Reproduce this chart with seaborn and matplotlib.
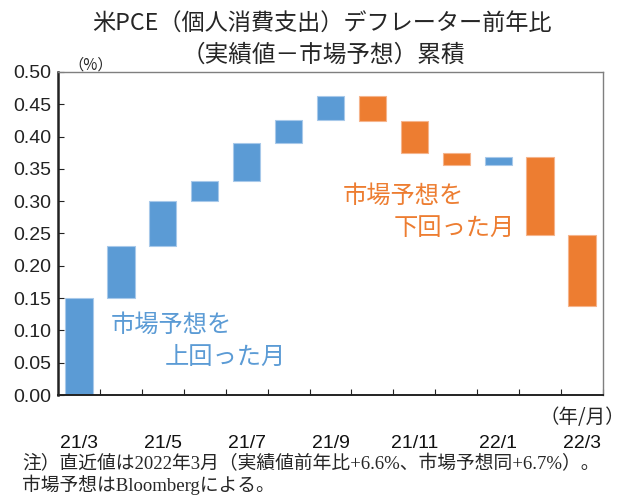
import numpy as np
import pandas as pd
import matplotlib
matplotlib.use("Agg")
import matplotlib.pyplot as plt
import seaborn as sns

# ---- data ----
months = ["21/3", "21/4", "21/5", "21/6", "21/7", "21/8", "21/9",
          "21/10", "21/11", "21/12", "22/1", "22/2", "22/3"]
cumulative = [0.150, 0.231, 0.301, 0.331, 0.390, 0.426, 0.463,
              0.424, 0.374, 0.356, 0.369, 0.247, 0.138]
tick_labels = ["21/3", "", "21/5", "", "21/7", "", "21/9",
               "", "21/11", "", "22/1", "", "22/3"]
y_ticks = [0.00, 0.05, 0.10, 0.15, 0.20, 0.25, 0.30, 0.35, 0.40, 0.45, 0.50]

BLUE = "#5B9BD5"
ORANGE = "#ED7D31"

start = [0.0] + cumulative[:-1]
df = pd.DataFrame({"month": months, "start": start, "end": cumulative})
df["low"] = df[["start", "end"]].min(axis=1)
df["height"] = (df["end"] - df["start"]).abs()
df["dir"] = np.where(df["end"] >= df["start"], "up", "down")

sns.set_style("white")
plt.rcParams["font.family"] = ["Noto Sans CJK JP", "DejaVu Sans"]

fig = plt.figure(figsize=(6.41, 4.98), dpi=100)
ax = fig.add_axes([58 / 641, 1 - 395 / 498, (603 - 58) / 641, (395 - 72) / 498])

for d, col, edge in [("up", BLUE, "#a8c9ea"), ("down", ORANGE, "#f5b48c")]:
    sub = df[df["dir"] == d]
    sns.barplot(data=sub, x="month", y="height", order=months,
                bottom=sub["low"].to_numpy(), color=col, saturation=1,
                width=0.65, errorbar=None, ax=ax,
                edgecolor=edge, linewidth=0.8)

ax.set_xlim(-0.5, len(months) - 0.5)
ax.set_ylim(0, 0.5)
ax.set_xlabel("")
ax.set_ylabel("")

ax.set_yticks(y_ticks)
ax.set_yticklabels([f"{v:.2f}" for v in y_ticks], family="Liberation Sans")
ax.tick_params(axis="y", direction="in", length=4, width=0.8,
               labelsize=14, pad=5, colors="#222222", left=True)

ax.set_xticks(range(len(months)))
ax.set_xticklabels(tick_labels, family="Liberation Sans")
ax.tick_params(axis="x", which="major", length=0, pad=29, labelsize=14,
               labelcolor="#111111")
ax.set_xticks([i + 0.5 for i in range(len(months))], minor=True)
ax.tick_params(axis="x", which="minor", direction="in", length=4,
               width=0.8, color="#222222", bottom=True)

for s in ["left", "bottom"]:
    ax.spines[s].set_color("#222222")
ax.spines["left"].set_linewidth(1.8)
ax.spines["bottom"].set_linewidth(1.4)
for s in ["top", "right"]:
    ax.spines[s].set_visible(True)
    ax.spines[s].set_color("#7f7f7f")
    ax.spines[s].set_linewidth(1.0)

# annotations
ax.text(0.75, 0.108, "市場予想を", color=BLUE, fontsize=17.5, va="center", ha="left")
ax.text(2.05, 0.059, "上回った月", color=BLUE, fontsize=17.5, va="center", ha="left")
ax.text(6.3, 0.309, "市場予想を", color=ORANGE, fontsize=17.5, va="center", ha="left")
ax.text(7.5, 0.258, "下回った月", color=ORANGE, fontsize=17.5, va="center", ha="left")

# titles and notes
fig.text(322 / 641, 1 - 24 / 498, "米PCE（個人消費支出）デフレーター前年比",
         ha="center", va="center", fontsize=16.7)
fig.text(323 / 641, 1 - 55 / 498, "（実績値－市場予想）累積",
         ha="center", va="center", fontsize=17)
fig.text(68 / 641, 1 - 65 / 498, "（%）", ha="left", va="center", fontsize=11)
fig.text(625 / 641, 1 - 417 / 498, "（年/月）", ha="right", va="center", fontsize=14)

note_family = ["Liberation Serif", "Noto Sans CJK JP"]
fig.text(22 / 641, 1 - 464 / 498,
         "注）直近値は2022年3月（実績値前年比+6.6%、市場予想同+6.7%）。",
         ha="left", va="center", fontsize=13.5, family=note_family)
fig.text(22 / 641, 1 - 485 / 498, "市場予想はBloombergによる。",
         ha="left", va="center", fontsize=13.5, family=note_family)

fig.savefig("out.png", dpi=100)
